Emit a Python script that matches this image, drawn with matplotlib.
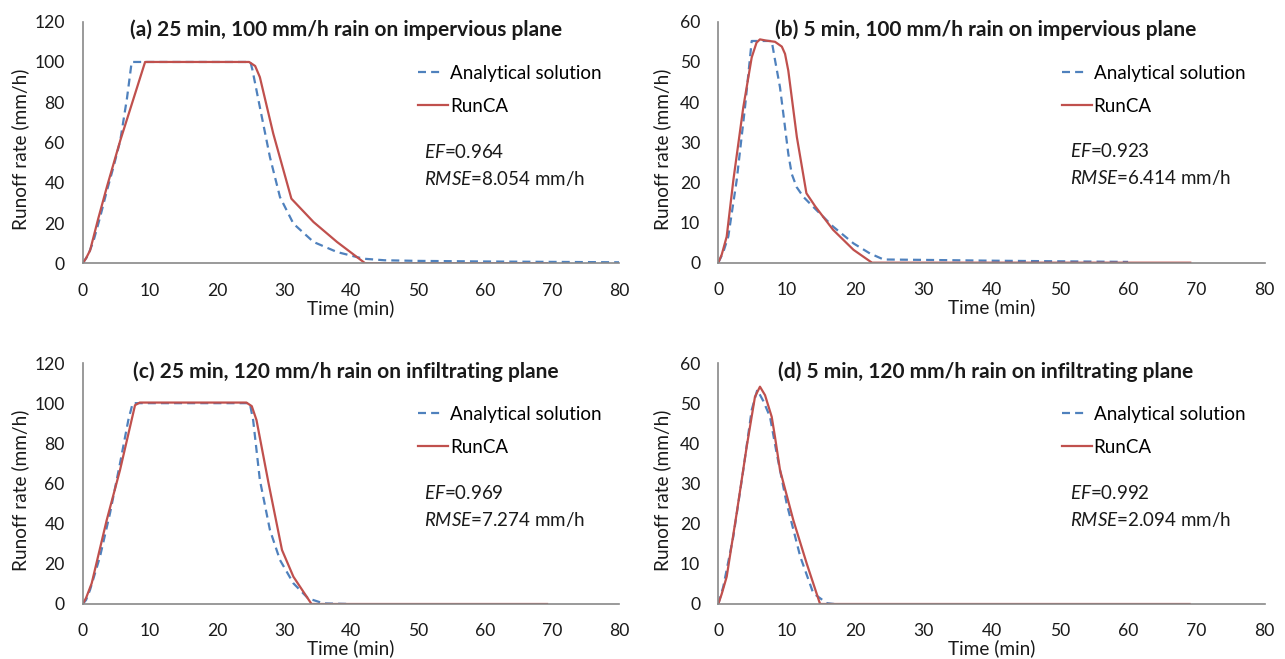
import matplotlib
matplotlib.use("Agg")
import matplotlib.pyplot as plt
from matplotlib.lines import Line2D

plt.rcParams['font.family'] = ['Lato', 'DejaVu Sans']
plt.rcParams['mathtext.fontset'] = 'custom'
plt.rcParams['mathtext.it'] = 'Lato:italic'
plt.rcParams['mathtext.rm'] = 'Lato'

# (a) 25 min, 100 mm/h rain on impervious plane
t_a_an = [0, 0.8, 1.6, 2.6, 3.6, 4.6, 5.6, 6.6, 7.3, 25.0, 25.3, 26.4, 27.9, 29.4,
          31.4, 34.4, 37.9, 41.8, 45, 50, 60, 70, 80]
q_a_an = [0, 4, 11, 23, 36, 48, 61, 82, 100, 100, 96, 77.6, 52.8, 32.9,
          19.7, 10.6, 5.6, 2.3, 1.5, 1.2, 0.9, 0.7, 0.5]
t_a_ca = [0, 0.5, 1.1, 2.3, 3.6, 5.6, 7.5, 9.3, 24.8, 25.7, 26.4, 28.4, 31.1,
          34.4, 37.9, 42.1, 69.2]
q_a_ca = [0, 2.5, 6.4, 22, 37.9, 61, 81, 100, 100, 98, 92.5, 64.4, 32.1,
          20.5, 10.6, 0, 0]

# (b) 5 min, 100 mm/h rain on impervious plane
t_b_an = [0, 0.7, 1.46, 2.69, 3.91, 4.89, 7.82, 8.3, 9.03, 9.52, 10.25, 10.75,
          11.48, 12.45, 13.9, 16.8, 19.8, 22.2, 24.2, 30, 40, 50, 60]
q_b_an = [0, 2.5, 6.5, 20.5, 38.7, 55.2, 55.2, 50.5, 43.7, 37.1, 27.1, 22.1,
          18.8, 16.4, 13.9, 9.0, 4.8, 2.3, 0.8, 0.7, 0.5, 0.35, 0.2]
t_b_ca = [0, 0.5, 1.23, 2.2, 3.66, 4.89, 5.6, 6.1, 7.0, 8.3, 9.3, 9.77, 10.25,
          11.5, 12.9, 14.2, 16.8, 19.8, 22.5, 69.1]
q_b_ca = [0, 2.0, 6.5, 20.5, 38.7, 51.1, 54.8, 55.6, 55.3, 55.0, 53.8, 52.0, 47.8,
          31.3, 17.3, 14.0, 8.2, 3.2, 0, 0]

# (c) 25 min, 120 mm/h rain on infiltrating plane
t_c_an = [0, 0.5, 1.09, 2.58, 4.07, 5.56, 6.8, 7.45, 24.9, 25.4, 26.4, 27.9,
          29.4, 31.4, 33.6, 35.9, 40]
q_c_an = [0, 2, 7, 23.6, 45.2, 70, 91.6, 100, 100, 91.6, 61.8, 36.9,
          21.9, 10.3, 2.8, 0.3, 0]
t_c_ca = [0, 0.5, 1.34, 3.58, 5.56, 7.8, 8.5, 9.2, 24.4, 25.2, 25.9, 27.7,
          29.7, 31.4, 34.1, 69.2]
q_c_ca = [0, 3, 10.3, 41.8, 66.7, 99, 100.3, 100.3, 100.3, 98.5, 91.6, 60.1,
          26.9, 13.6, 0, 0]

# (d) 5 min, 120 mm/h rain on infiltrating plane
t_d_an = [0, 0.73, 2.2, 3.66, 4.89, 5.71, 6.6, 7.57, 8.55, 10.0, 12.0, 13.9, 15.9, 17]
q_d_an = [0, 4.3, 16.8, 33.4, 48.3, 53.3, 50.5, 46.6, 37.5, 25.1, 11.8, 2.7, 0.2, 0]
t_d_ca = [0, 0.5, 1.23, 2.69, 4.16, 5.37, 6.1, 6.84, 7.82, 8.3, 9.03, 10.98,
          12.94, 14.9, 69]
q_d_ca = [0, 2.5, 6.8, 22.6, 39.2, 51.6, 54.1, 52.0, 46.6, 41.6, 33.4, 20.9,
          10.1, 0, 0]

titles = ["(a) 25 min, 100 mm/h rain on impervious plane",
          "(b) 5 min, 100 mm/h rain on impervious plane",
          "(c) 25 min, 120 mm/h rain on infiltrating plane",
          "(d) 5 min, 120 mm/h rain on infiltrating plane"]
ef_values = ["0.964", "0.923", "0.969", "0.992"]
rmse_values = ["8.054", "6.414", "7.274", "2.094"]
y_max = [120, 60, 120, 60]
y_step = [20, 10, 20, 10]
x_ticks = [0, 10, 20, 30, 40, 50, 60, 70, 80]

panels = [(t_a_an, q_a_an, t_a_ca, q_a_ca),
          (t_b_an, q_b_an, t_b_ca, q_b_ca),
          (t_c_an, q_c_an, t_c_ca, q_c_ca),
          (t_d_an, q_d_an, t_d_ca, q_d_ca)]

W, H = 1285, 659
fig = plt.figure(figsize=(W / 100, H / 100), dpi=100)

# axes boxes in pixels: left, y of the x-axis line, width, height
boxes = [(82.7, 263.3, 536.8, 241.6),
         (718.3, 262.7, 546.4, 241.0),
         (82.7, 604.0, 536.8, 241.0),
         (718.3, 604.0, 546.4, 241.0)]
ylabel_x = [-0.1155, -0.103, -0.1155, -0.103]
legend_x = [0.625, 0.6285, 0.625, 0.6285]
note_x = [0.636, 0.644, 0.636, 0.644]

blue = '#4F81BD'
red = '#C0504D'
grey = '#898989'
txt = '#1a1a1a'
fs = 13.5
lw = 1.6

for i, (ta, qa, tc, qc) in enumerate(panels):
    l, b, w, h = boxes[i]
    ax = fig.add_axes([l / W, 1 - b / H, w / W, h / H])
    ax.plot(ta, qa, color=blue, lw=lw, dashes=(3.6, 2.3))
    ax.plot(tc, qc, color=red, lw=lw)
    ax.set_xlim(0, 80)
    ax.set_ylim(0, y_max[i])
    ax.set_xticks(x_ticks)
    ax.set_yticks(list(range(0, y_max[i] + 1, y_step[i])))
    for s in ['top', 'right']:
        ax.spines[s].set_visible(False)
    for s in ['left', 'bottom']:
        ax.spines[s].set_color(grey)
        ax.spines[s].set_linewidth(1.2)
    ax.tick_params(length=0, labelsize=12.6, colors=txt)
    ax.tick_params(axis='y', pad=13)
    ax.tick_params(axis='x', pad=14)
    ax.set_xlabel('Time (min)', fontsize=13.7, color=txt, va='center')
    ax.xaxis.set_label_coords(0.5, -0.185)
    ax.set_ylabel('Runoff rate (mm/h)', fontsize=13.7, color=txt, va='center')
    ax.yaxis.set_label_coords(ylabel_x[i], 0.47)
    ax.text(0.49, 0.965, titles[i], transform=ax.transAxes, ha='center',
            va='center', fontsize=15, fontweight='bold', color=txt)

    # legend keys: two dashes for the analytical solution, a solid line for RunCA
    key_an = Line2D([], [], color=blue, lw=lw, dashes=(3.6, 2.3, 3.6, 6.0))
    key_ca = Line2D([], [], color=red, lw=lw)
    ax.legend([key_an, key_ca], ['Analytical solution', 'RunCA'],
              loc='center left', bbox_to_anchor=(legend_x[i], 0.7185),
              frameon=False, fontsize=fs, handlelength=1.6, handletextpad=0.1,
              labelspacing=0.85, borderaxespad=0, borderpad=0)
    ax.text(note_x[i], 0.4625, r'$\it{EF}$=' + ef_values[i],
            transform=ax.transAxes, ha='left', va='center', fontsize=fs,
            color=txt)
    ax.text(note_x[i], 0.352, r'$\it{RMSE}$=' + rmse_values[i] + ' mm/h',
            transform=ax.transAxes, ha='left', va='center', fontsize=fs,
            color=txt)

fig.savefig('out.png', dpi=100)
